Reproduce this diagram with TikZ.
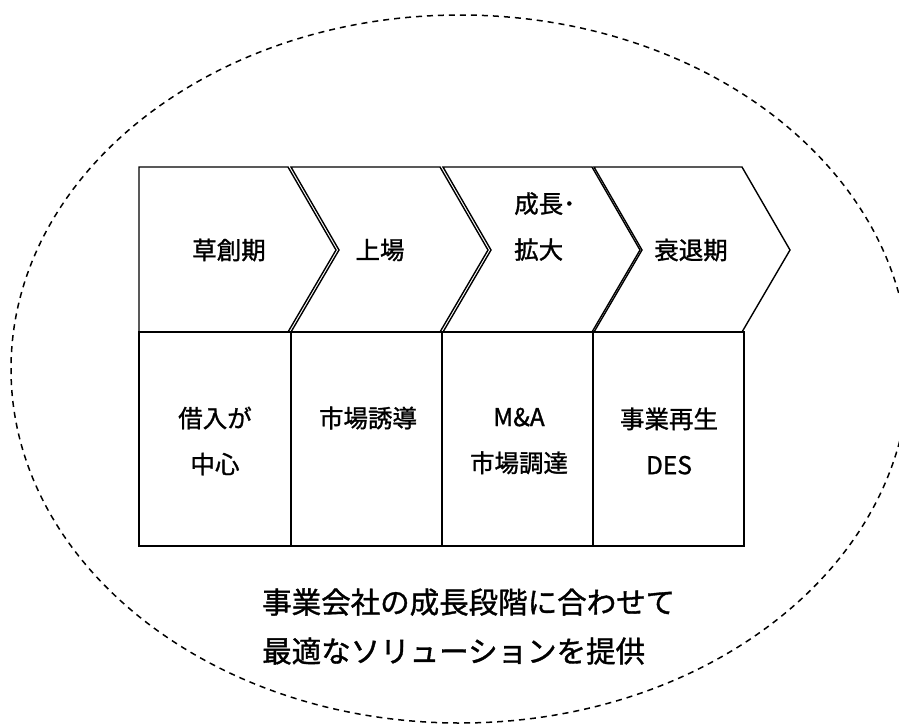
\documentclass[tikz,border=0pt]{standalone}
\usepackage{fontspec}
\newfontfamily\jp[RawFeature={embolden=1.2}]{Noto Sans CJK JP}
\begin{document}
\begin{tikzpicture}[x=1pt,y=-1pt,
  shapeline/.style={draw=black,line width=1.4pt,line join=miter},
  cell/.style={draw=black,line width=1.4pt},
  lbl/.style={font=\jp\fontsize{24.5}{46}\selectfont,align=center,inner sep=0pt},
  big/.style={font=\jp\fontsize{29.5}{49}\selectfont,align=left,inner sep=0pt,anchor=west},
  oval/.style={draw=black,line width=1.5pt,dash pattern=on 6pt off 5pt}]
\useasboundingbox (0,0) rectangle (899,724);
% dashed ellipse
\draw[oval] (460,369) ellipse [x radius=449pt, y radius=354pt];
% chevrons
\draw[shapeline] (139,167) -- (288,167) -- (336,250) -- (288,332) -- (139,332) -- cycle;
\draw[shapeline] (291,167) -- (440,167) -- (488,250) -- (440,332) -- (291,332) -- (339,250) -- cycle;
\draw[shapeline] (443,167) -- (592,167) -- (640,250) -- (592,332) -- (443,332) -- (491,250) -- cycle;
\draw[shapeline] (594,167) -- (742,167) -- (790,250) -- (742,332) -- (594,332) -- (642,250) -- cycle;
% table cells
\draw[cell] (139,332) rectangle (291,546);
\draw[cell] (291,332) rectangle (442,546);
\draw[cell] (442,332) rectangle (593,546);
\draw[cell] (593,332) rectangle (744,546);
% chevron labels
\node[lbl] (c1) at (229,250) {草創期};
\node[lbl] (c2) at (380,250) {上場};
\node[lbl,align=left,anchor=west] (c3) at (514,226.5) {成長･\\拡大};
\node[lbl] (c4) at (691,250) {衰退期};
% table labels
\node[lbl] (t1) at (215,441) {借入が\\中心};
\node[lbl] (t2) at (368,418) {市場誘導};
\node[lbl] (t3) at (519,441) {M\&A\\市場調達};
\node[lbl] (t4) at (669,441) {事業再生\\DES};
% bottom text
\node[big] (msg) at (262,626.5) {事業会社の成長段階に合わせて\\最適なソリューションを提供};
\end{tikzpicture}
\end{document}
